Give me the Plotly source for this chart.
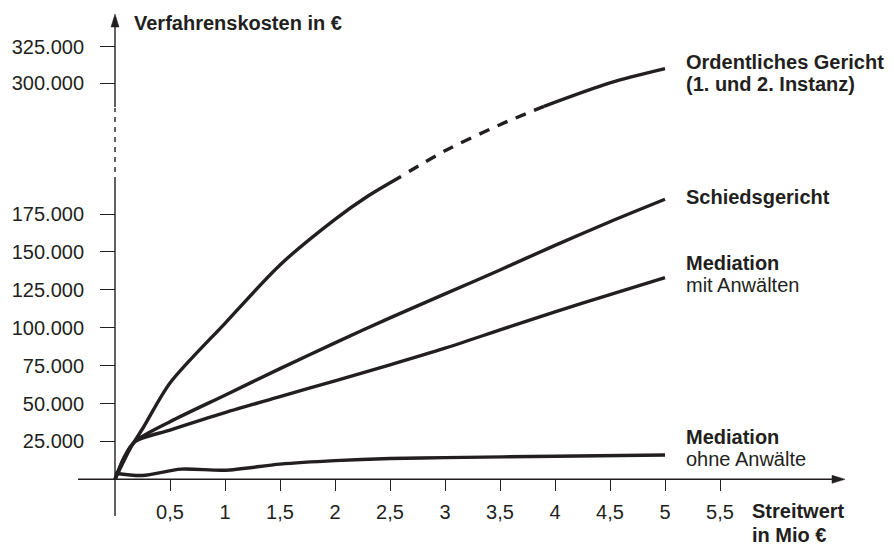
import plotly.graph_objects as go

# ---------------- data (Streitwert in Mio €, Verfahrenskosten in €) ----------------
x_ord_a = [0, 0.14, 0.26, 0.5, 1, 1.5, 2, 2.3, 2.6]
y_ord_a = [0, 20500, 34500, 63500, 102900, 141400, 171500, 186900, 199800]
x_ord_b = [2.6, 3, 3.5, 3.9]            # dashed part (across the axis break)
y_ord_b = [199800, 227300, 255400, 275200]
x_ord_c = [3.9, 4.5, 5]
y_ord_c = [275200, 300300, 310000]

x_sch = [0, 0.08, 0.18, 0.5, 1, 1.5, 2, 2.5, 3, 3.5, 4, 4.5, 5]
y_sch = [0, 13900, 24800, 38000, 55500, 73000, 90000, 106500, 122300, 138100, 154300, 169900, 184700]

x_mit = [0, 0.08, 0.18, 0.5, 1, 1.5, 2, 2.5, 3, 3.5, 4, 4.5, 5]
y_mit = [0, 13900, 24800, 32500, 44000, 54500, 65000, 75500, 86500, 98500, 110500, 121800, 133000]

x_ohne = [0, 0.25, 0.6, 1, 1.5, 2, 2.5, 3, 4, 5]
y_ohne = [4000, 2500, 6700, 6000, 10000, 12300, 13700, 14300, 15200, 16000]

x_tickvals = [0.5, 1, 1.5, 2, 2.5, 3, 3.5, 4, 4.5, 5, 5.5]
x_ticktext = ["0,5", "1", "1,5", "2", "2,5", "3", "3,5", "4", "4,5", "5", "5,5"]
y_tickvals = [25000, 50000, 75000, 100000, 125000, 150000, 175000, 300000, 325000]
y_ticktext = ["25.000", "50.000", "75.000", "100.000", "125.000", "150.000", "175.000",
              "300.000", "325.000"]

# ---------------- broken value axis ----------------
LIN_MAX = 200000
UP_START = 300000
MID_SCALE = 0.612
UP_BASE = 261200
UP_SCALE = 0.968


def disp(v):
    if v <= LIN_MAX:
        return v
    if v <= UP_START:
        return LIN_MAX + (v - LIN_MAX) * MID_SCALE
    return UP_BASE + (v - UP_START) * UP_SCALE


def D(vals):
    return [disp(v) for v in vals]


# ---------------- geometry ----------------
W, H = 894, 547
X0_PX, PX_PER_X = 115, 110
Y0_PX, PX_PER_25K = 479.3, 37.9


def xv(px):
    return (px - X0_PX) / PX_PER_X


def yv(py):
    return (Y0_PX - py) / PX_PER_25K * 25000


INK = "#231f20"
FONT = "Liberation Sans, Arial, sans-serif"
LW = 3.4

fig = go.Figure()


def add_line(x, y, dash="solid"):
    fig.add_trace(go.Scatter(
        x=x, y=D(y), mode="lines",
        line=dict(color=INK, width=LW, shape="spline", smoothing=0.8, dash=dash),
        hoverinfo="skip", showlegend=False))


add_line(x_ord_a, y_ord_a)
add_line(x_ord_b, y_ord_b, dash="0px,9px,11px,0px")
add_line(x_ord_c, y_ord_c)
add_line(x_sch, y_sch)
add_line(x_mit, y_mit)
add_line(x_ohne, y_ohne)

AX_W = 1.4
shapes = [
    # x axis
    dict(type="line", x0=xv(78), x1=xv(834), y0=0, y1=0, line=dict(color=INK, width=AX_W)),
    # y axis (lower solid, dashed break, upper solid)
    dict(type="line", x0=0, x1=0, y0=yv(516), y1=yv(177), line=dict(color=INK, width=AX_W)),
    dict(type="line", x0=0, x1=0, y0=yv(172), y1=yv(108), line=dict(color=INK, width=AX_W, dash="5px,5px")),
    dict(type="line", x0=0, x1=0, y0=yv(107), y1=yv(26), line=dict(color=INK, width=AX_W)),
    # arrow heads
    dict(type="path",
         path=f"M {xv(845)},{yv(Y0_PX)} L {xv(832)},{yv(Y0_PX-4)} L {xv(832)},{yv(Y0_PX+4)} Z",
         fillcolor=INK, line=dict(color=INK, width=0.5)),
    dict(type="path",
         path=f"M {xv(X0_PX)},{yv(14)} L {xv(X0_PX-4)},{yv(27)} L {xv(X0_PX+4)},{yv(27)} Z",
         fillcolor=INK, line=dict(color=INK, width=0.5)),
]


def ann(text, px, py, size=20, bold=False, anchor="left"):
    t = f"<b>{text}</b>" if bold else text
    return dict(text=t, x=xv(px), y=yv(py), xref="x", yref="y", xanchor=anchor,
                yanchor="middle", showarrow=False,
                font=dict(family=FONT, size=size, color=INK))


LX = 684
annotations = [
    ann("Verfahrenskosten in €", 132, 23, bold=True),
    ann("Ordentliches Gericht", LX, 62, bold=True),
    ann("(1. und 2. Instanz)", LX, 84, bold=True),
    ann("Schiedsgericht", LX, 197, bold=True),
    ann("Mediation", LX, 263, bold=True),
    ann("mit Anwälten", LX, 285, size=20),
    ann("Mediation", LX, 437, bold=True),
    ann("ohne Anwälte", LX, 459, size=20),
    ann("Streitwert", 750, 511, bold=True),
    ann("in Mio €", 750, 535, bold=True),
]

fig.update_layout(
    width=W, height=H,
    margin=dict(l=0, r=0, t=0, b=0),
    paper_bgcolor="white", plot_bgcolor="white",
    showlegend=False,
    shapes=shapes,
    annotations=annotations,
    xaxis=dict(
        range=[xv(0), xv(W)], anchor="free", position=(H - Y0_PX) / H,
        showgrid=False, zeroline=False, showline=False,
        tickmode="array", tickvals=x_tickvals, ticktext=x_ticktext,
        ticks="outside", ticklen=11, tickwidth=AX_W, tickcolor=INK,
        ticklabelstandoff=4,
        tickfont=dict(family=FONT, size=20, color=INK),
        fixedrange=True, automargin=False,
    ),
    yaxis=dict(
        range=[yv(H), yv(0)], anchor="free", position=X0_PX / W,
        showgrid=False, zeroline=False, showline=False,
        tickmode="array", tickvals=D(y_tickvals), ticktext=y_ticktext,
        ticks="outside", ticklen=15, tickwidth=AX_W, tickcolor=INK,
        ticklabelstandoff=12,
        tickfont=dict(family=FONT, size=20, color=INK),
        fixedrange=True, automargin=False,
    ),
)

fig.write_html(
    "out.html",
    config={"displayModeBar": False},
    post_script="document.body.style.margin='0';document.body.style.overflow='hidden';",
)
